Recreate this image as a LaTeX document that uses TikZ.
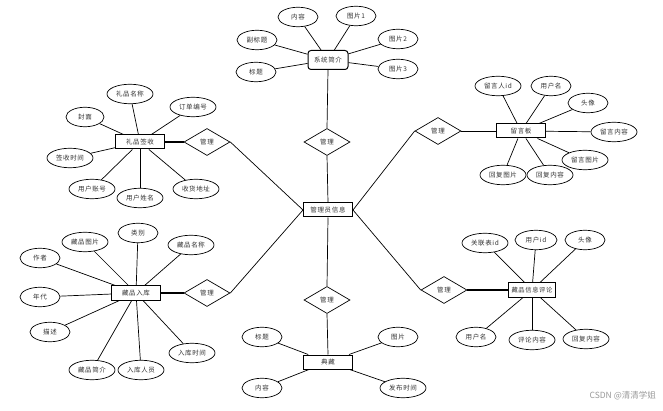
\documentclass[tikz,border=0pt]{standalone}
\usepackage{fontspec}
\newfontfamily\cjk[LetterSpace=10]{Noto Sans CJK SC}
\newfontfamily\cjkw{Noto Sans CJK SC}
\usetikzlibrary{shapes.geometric}
\begin{document}
\begin{tikzpicture}[x=1pt,y=-1pt,
  every node/.style={font=\cjk\fontsize{6.5}{7}\selectfont, text=black!80, inner sep=0pt},
  ent/.style={draw, rectangle, line width=1pt, minimum width=49pt, minimum height=14pt},
  sysbox/.style={draw, rectangle, rounded corners=3pt, line width=1pt, minimum width=40pt, minimum height=19pt},
  attr/.style={draw, ellipse, line width=0.7pt, minimum width=40pt, minimum height=19.5pt},
  wattr/.style={attr, minimum width=46pt},
  rel/.style={draw, diamond, line width=0.7pt, minimum width=46pt, minimum height=27pt},
  lk/.style={line width=0.7pt},
  tk/.style={line width=1.5pt}]
\useasboundingbox (0,0) rectangle (663,411);
\fill[white] (0,0) rectangle (663,411);

% central
\node[ent] (mgr) at (328,210) {管理员信息};
\node[rel] (d5) at (327,142) {管理};
\node[rel] (d6) at (327,300) {管理};
\node[rel] (d1) at (207,142) {管理};
\node[rel] (d2) at (207,293) {管理};
\node[rel] (d3) at (438,131) {管理};
\node[rel] (d4) at (444,290) {管理};

% 系统简介
\node[sysbox] (sys) at (328,60) {系统简介};
\node[attr] (s1) at (298,17) {内容};
\node[attr] (s2) at (356,16) {图片1};
\node[attr] (s3) at (257,40) {副标题};
\node[attr] (s4) at (256,72) {标题};
\node[attr] (s5) at (398,39) {图片2};
\node[attr] (s6) at (398,69) {图片3};
\foreach \n in {s1,s2,s3,s4,s5,s6} \draw[lk] (sys) -- (\n);

% 礼品签收
\node[ent] (gift) at (140,142) {礼品签收};
\node[wattr] (g1) at (130,94) {礼品名称};
\node[wattr] (g2) at (193,107) {订单编号};
\node[attr, minimum width=38pt] (g3) at (85,117) {封面};
\node[wattr] (g4) at (70,158) {签收时间};
\node[wattr] (g5) at (92,189) {用户账号};
\node[wattr] (g6) at (140,198) {用户姓名};
\node[wattr] (g7) at (196,189) {收货地址};
\foreach \n in {g1,g2,g3,g4,g5,g6,g7} \draw[lk] (gift) -- (\n);

% 留言板
\node[ent] (msg) at (521,131) {留言板};
\node[wattr] (m1) at (498,86) {留言人id};
\node[attr] (m2) at (551,86) {用户名};
\node[attr] (m3) at (588,103) {头像};
\node[wattr] (m4) at (614,132) {留言内容};
\node[wattr] (m5) at (585,160) {留言图片};
\node[wattr] (m6) at (503,175) {回复图片};
\node[wattr] (m7) at (550,175) {回复内容};
\foreach \n in {m1,m2,m3,m4,m5,m6,m7} \draw[lk] (msg) -- (\n);

% 藏品入库
\node[ent] (store) at (136,293) {藏品入库};
\node[attr] (c1) at (40,258) {作者};
\node[wattr] (c2) at (85,242) {藏品图片};
\node[attr] (c3) at (138,233) {类别};
\node[wattr] (c4) at (191,245) {藏品名称};
\node[attr] (c5) at (40,297) {年代};
\node[attr] (c6) at (50,332) {描述};
\node[wattr] (c7) at (92,370) {藏品简介};
\node[wattr] (c8) at (141,370) {入库人员};
\node[wattr] (c9) at (192,353) {入库时间};
\foreach \n in {c1,c2,c3,c4,c5,c6,c7,c8,c9} \draw[lk] (store) -- (\n);

% 藏品信息评论
\node[ent, minimum width=47pt, font=\cjk\fontsize{6.3}{7}\selectfont] (cmt) at (532,290) {藏品信息评论};
\node[wattr] (r1) at (485,243) {关联表id};
\node[attr, minimum width=42pt] (r2) at (536,240) {用户id};
\node[attr] (r3) at (585,240) {头像};
\node[attr] (r4) at (476,337) {用户名};
\node[wattr] (r5) at (532,340) {评论内容};
\node[wattr] (r6) at (586,339) {回复内容};
\foreach \n in {r1,r2,r3,r4,r5,r6} \draw[lk] (cmt) -- (\n);

% 典藏
\node[ent] (col) at (328,362) {典藏};
\node[attr] (t1) at (262,337) {标题};
\node[attr] (t2) at (262,388) {内容};
\node[attr] (t3) at (398,337) {图片};
\node[wattr] (t4) at (403,388) {发布时间};
\foreach \n in {t1,t2,t3,t4} \draw[lk] (col) -- (\n);

% relationships
\draw[lk] (sys.south) -- (d5.north);
\draw[lk] (d5.south) -- (mgr.north);
\draw[lk] (mgr.south) -- (d6.north);
\draw[lk] (d6.south) -- (col.north);
\draw[tk] (gift.east) -- (d1.west);
\draw[lk] (d1.east) -- (mgr.west);
\draw[tk] (store.east) -- (d2.west);
\draw[lk] (d2.east) -- (mgr.west);
\draw[lk] (msg.west) -- (d3.east);
\draw[lk] (d3.west) -- (mgr.east);
\draw[tk] (cmt.west) -- (d4.east);
\draw[lk] (d4.west) -- (mgr.east);

% watermark
\node[font=\cjkw\fontsize{8.5}{10}\selectfont, text=black!40, anchor=east] (wm) at (656,396) {CSDN @清清学姐};
\end{tikzpicture}
\end{document}
